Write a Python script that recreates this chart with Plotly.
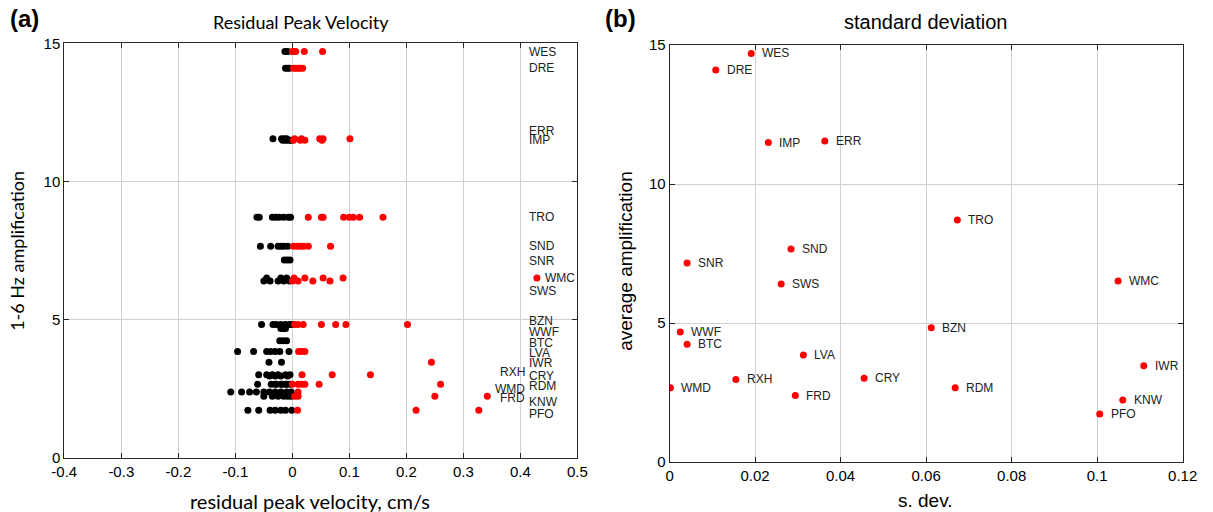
import plotly.graph_objects as go

# Station codes, average 1-6 Hz amplification and standard deviation of residuals
stations = ["WES", "DRE", "ERR", "IMP", "TRO", "SND", "SNR", "WMC", "SWS", "BZN",
            "WWF", "BTC", "LVA", "IWR", "CRY", "RXH", "RDM", "WMD", "FRD", "KNW", "PFO"]
amplification = [14.70, 14.10, 11.55, 11.49, 8.71, 7.66, 7.16, 6.51, 6.40, 4.83,
                 4.68, 4.24, 3.85, 3.46, 3.01, 2.97, 2.67, 2.67, 2.39, 2.23, 1.73]
sdev = [0.0191, 0.0108, 0.0363, 0.0231, 0.0673, 0.0284, 0.0041, 0.1049, 0.0261, 0.0612,
        0.0025, 0.0041, 0.0313, 0.1109, 0.0455, 0.0155, 0.0668, 0.0002, 0.0294, 0.1060, 0.1006]

# Residual peak velocity (cm/s) of each recorded event, per station
residuals = [
    [-0.013, -0.008, 0.000, 0.003, 0.006, 0.021, 0.053],                                   # WES
    [-0.012, -0.008, -0.005, 0.002, 0.006, 0.010, 0.014, 0.018],                           # DRE
    [-0.034, -0.019, -0.014, -0.010, 0.004, 0.016, 0.048, 0.054, 0.101],                   # ERR
    [-0.017, -0.012, -0.008, -0.004, -0.001, 0.002, 0.014, 0.022, 0.052],                  # IMP
    [-0.062, -0.058, -0.035, -0.029, -0.023, -0.015, -0.007, -0.003,
     0.028, 0.051, 0.054, 0.090, 0.100, 0.107, 0.118, 0.159],                              # TRO
    [-0.056, -0.038, -0.025, -0.020, -0.015, -0.008, 0.002, 0.008, 0.014, 0.020, 0.028, 0.067],  # SND
    [-0.014, -0.009, -0.004],                                                              # SNR
    [-0.045, -0.020, -0.010, 0.003, 0.022, 0.054, 0.089, 0.429],                           # WMC
    [-0.050, -0.039, -0.025, -0.015, -0.005, 0.000, 0.010, 0.036, 0.066],                  # SWS
    [-0.054, -0.034, -0.028, -0.020, -0.012, -0.005, -0.001,
     0.004, 0.010, 0.019, 0.051, 0.076, 0.094, 0.202],                                     # BZN
    [-0.020, -0.016, -0.012],                                                              # WWF
    [-0.022, -0.016, -0.010],                                                              # BTC
    [-0.096, -0.068, -0.045, -0.038, -0.030, -0.022, -0.006, 0.011, 0.016, 0.022],         # LVA
    [-0.041, -0.019, 0.244],                                                               # IWR
    [-0.059, -0.045, -0.035, -0.025, -0.012, -0.004, 0.017, 0.070, 0.137],                 # CRY
    [-0.040, -0.030, -0.020, -0.008],                                                      # RXH
    [-0.061, -0.037, -0.028, -0.018, -0.010, 0.000, 0.010, 0.016, 0.022, 0.047, 0.260],    # RDM
    [-0.030, -0.020, -0.012, -0.004],                                                      # WMD
    [-0.108, -0.089, -0.075, -0.063, -0.050, -0.040, -0.030, -0.020, -0.010, -0.002, 0.010],  # FRD
    [-0.050, -0.035, -0.025, -0.015, -0.008, -0.002, 0.004, 0.010, 0.250, 0.342],          # KNW
    [-0.078, -0.059, -0.039, -0.030, -0.020, -0.012, -0.001, 0.009, 0.217, 0.327],         # PFO
]

x_ticks_a = [-0.4, -0.3, -0.2, -0.1, 0, 0.1, 0.2, 0.3, 0.4, 0.5]
x_ticks_b = [0, 0.02, 0.04, 0.06, 0.08, 0.1, 0.12]
y_ticks = [0, 5, 10, 15]

# Label placement tweaks for the crowded station names in panel (a): (x anchor, pixel shift up)
label_layout_a = {
    "ERR": ("left", 8), "SWS": ("left", -10), "BZN": ("left", 3), "WWF": ("left", -3),
    "BTC": ("left", -2), "LVA": ("left", -1), "IWR": ("left", -1), "CRY": ("left", -1),
    "RXH": ("right", 4), "RDM": ("left", -2), "WMD": ("right", -5), "FRD": ("right", -6),
    "KNW": ("left", -6), "PFO": ("left", -4), "SNR": ("left", -1),
}

FONT = "Liberation Sans, Arial, Helvetica, sans-serif"
FONT_M = "Lato, Open Sans, sans-serif"
RED = "#ff0000"

fig = go.Figure()

neg_x, neg_y, pos_x, pos_y = [], [], [], []
for amp, res in zip(amplification, residuals):
    for r in res:
        if r < 0:
            neg_x.append(r); neg_y.append(amp)
        else:
            pos_x.append(r); pos_y.append(amp)

fig.add_trace(go.Scatter(x=neg_x, y=neg_y, mode="markers", xaxis="x", yaxis="y",
                         marker=dict(color="black", size=7), showlegend=False))
fig.add_trace(go.Scatter(x=pos_x, y=pos_y, mode="markers", xaxis="x", yaxis="y",
                         marker=dict(color=RED, size=7), showlegend=False))

# Panel (b): standard deviation against average amplification
fig.add_trace(go.Scatter(x=sdev, y=amplification, mode="markers", xaxis="x2", yaxis="y2",
                         marker=dict(color=RED, size=7), showlegend=False))

annotations = []
for name, amp, s in zip(stations, amplification, sdev):
    annotations.append(dict(x=s, y=amp, xref="x2", yref="y2", text=name, showarrow=False,
                            xanchor="left", yanchor="middle", xshift=9,
                            font=dict(family=FONT, size=12, color="#222")))
    if name == "WMC":
        annotations.append(dict(x=0.429, y=amp, xref="x", yref="y", text=name, showarrow=False,
                                xanchor="left", yanchor="middle", xshift=6,
                                font=dict(family=FONT, size=12, color="#222")))
        continue
    anchor, shift = label_layout_a.get(name, ("left", 0))
    annotations.append(dict(x=0.412, y=amp, xref="x", yref="y", text=name, showarrow=False,
                            xanchor=anchor, yanchor="middle", yshift=shift,
                            font=dict(family=FONT, size=12, color="#222")))

# Panel titles, letters and axis titles
annotations += [
    dict(x=0.248, y=0.957, xref="paper", yref="paper", text="Residual Peak Velocity",
         showarrow=False, xanchor="center", yanchor="middle", font=dict(family=FONT_M, size=18, color="black")),
    dict(x=0.763, y=0.957, xref="paper", yref="paper", text="standard deviation",
         showarrow=False, xanchor="center", yanchor="middle", font=dict(family=FONT, size=20, color="black")),
    dict(x=0.007, y=0.963, xref="paper", yref="paper", text="<b>(a)</b>",
         showarrow=False, xanchor="left", yanchor="middle", font=dict(family=FONT, size=24, color="black")),
    dict(x=0.497, y=0.963, xref="paper", yref="paper", text="<b>(b)</b>",
         showarrow=False, xanchor="left", yanchor="middle", font=dict(family=FONT, size=24, color="black")),
    dict(x=0.2555, y=0.022, xref="paper", yref="paper", text="residual peak velocity, cm/s",
         showarrow=False, xanchor="center", yanchor="middle", font=dict(family=FONT_M, size=20, color="black")),
    dict(x=0.763, y=0.022, xref="paper", yref="paper", text="s. dev.",
         showarrow=False, xanchor="center", yanchor="middle", font=dict(family=FONT, size=19, color="black")),
    dict(x=0.014, y=0.51, xref="paper", yref="paper", text="1-6 Hz amplification", textangle=-90,
         showarrow=False, xanchor="center", yanchor="middle", font=dict(family=FONT_M, size=18, color="black")),
    dict(x=0.515, y=0.49, xref="paper", yref="paper", text="average amplification", textangle=-90,
         showarrow=False, xanchor="center", yanchor="middle", font=dict(family=FONT, size=19, color="black")),
]

axis_common = dict(showline=True, linecolor="#262626", linewidth=1, mirror="ticks",
                   ticks="inside", ticklen=5, tickcolor="#262626", automargin=False,
                   showgrid=True, gridcolor="#d0d0d0", gridwidth=1, zeroline=False,
                   tickfont=dict(family=FONT, size=15, color="black"))

fig.update_layout(
    width=1213, height=512,
    margin=dict(l=0, r=0, t=0, b=0, pad=0),
    paper_bgcolor="white", plot_bgcolor="white",
    xaxis=dict(domain=[0.053, 0.476], range=[-0.4, 0.5], tickvals=x_ticks_a,
               ticktext=[f"{v:g}" for v in x_ticks_a], anchor="y", **axis_common),
    yaxis=dict(domain=[0.1055, 0.9154], range=[0, 15], tickvals=y_ticks, anchor="x", **axis_common),
    xaxis2=dict(domain=[0.552, 0.975], range=[0, 0.12], tickvals=x_ticks_b,
                ticktext=[f"{v:g}" for v in x_ticks_b], anchor="y2", **axis_common),
    yaxis2=dict(domain=[0.0977, 0.912], range=[0, 15], tickvals=y_ticks, anchor="x2", **axis_common),
    annotations=annotations,
)

fig.write_html("out.html")
